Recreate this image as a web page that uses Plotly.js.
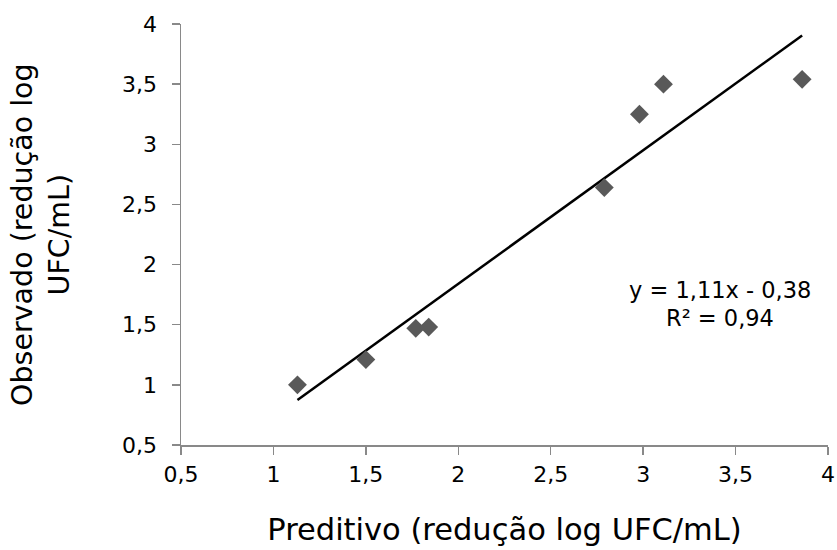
<!DOCTYPE html>
<html>
<head>
<meta charset="utf-8">
<script src="https://cdn.plot.ly/plotly-3.0.1.min.js"></script>
<style>html,body{margin:0;padding:0;background:#fff;}#chart{width:837px;height:550px;}</style>
</head>
<body>
<div id="chart"></div>
<script>
// Data
const predicted = [1.13, 1.50, 1.77, 1.84, 2.79, 2.98, 3.11, 3.86];
const observed  = [1.00, 1.21, 1.47, 1.48, 2.64, 3.25, 3.50, 3.54];
const trendSlope = 1.11;
const trendIntercept = -0.38;
const equationText = 'y = 1,11x - 0,38';
const r2Text = 'R² = 0,94';
const xTitle = 'Preditivo (redução log UFC/mL)';
const yTitle = 'Observado (redução log<br>UFC/mL)';

const xMin = Math.min(...predicted), xMax = Math.max(...predicted);
const trendX = [xMin, xMax];
const trendY = trendX.map(v => trendSlope * v + trendIntercept);

const FONT = 'DejaVu Sans, sans-serif';
const axisCommon = {
  showgrid: false, zeroline: false, showline: true,
  linecolor: '#898989', linewidth: 1.5,
  ticks: 'outside', ticklen: 8, tickwidth: 1.5, tickcolor: '#898989',
  dtick: 0.5, tick0: 0.5,
  tickfont: {family: FONT, size: 22, color: '#000'}
};

const data = [
  {x: trendX, y: trendY, mode: 'lines', line: {color: '#000', width: 2.5}, hoverinfo: 'skip', showlegend: false},
  {x: predicted, y: observed, mode: 'markers',
   marker: {symbol: 'diamond', size: 14.5, color: '#595959'}, showlegend: false}
];

const layout = {
  width: 837, height: 550,
  margin: {l: 181, r: 9, t: 24, b: 105},
  paper_bgcolor: '#fff', plot_bgcolor: '#fff',
  separators: ',.',
  font: {family: FONT, color: '#000'},
  xaxis: Object.assign({}, axisCommon, {range: [0.5, 4], ticklabelstandoff: 1,
    title: {text: xTitle, font: {family: FONT, size: 30.5, color: '#000'}, standoff: 32}}),
  yaxis: Object.assign({}, axisCommon, {range: [0.5, 4], ticklabelstandoff: 10}),
  annotations: [
    {xref: 'paper', yref: 'paper', x: -0.2173, y: 0.5, xanchor: 'center', yanchor: 'middle',
     textangle: -90, text: yTitle, showarrow: false,
     font: {family: FONT, size: 28.5, color: '#000'}},
    {xref: 'x', yref: 'y', x: 3.418, y: 1.79, text: equationText, showarrow: false,
     xanchor: 'center', yanchor: 'middle', font: {family: FONT, size: 22.5, color: '#000'}},
    {xref: 'x', yref: 'y', x: 3.418, y: 1.558, text: r2Text, showarrow: false,
     xanchor: 'center', yanchor: 'middle', font: {family: FONT, size: 22.5, color: '#000'}}
  ]
};

Plotly.newPlot('chart', data, layout, {displayModeBar: false, staticPlot: true});
</script>
</body>
</html>
